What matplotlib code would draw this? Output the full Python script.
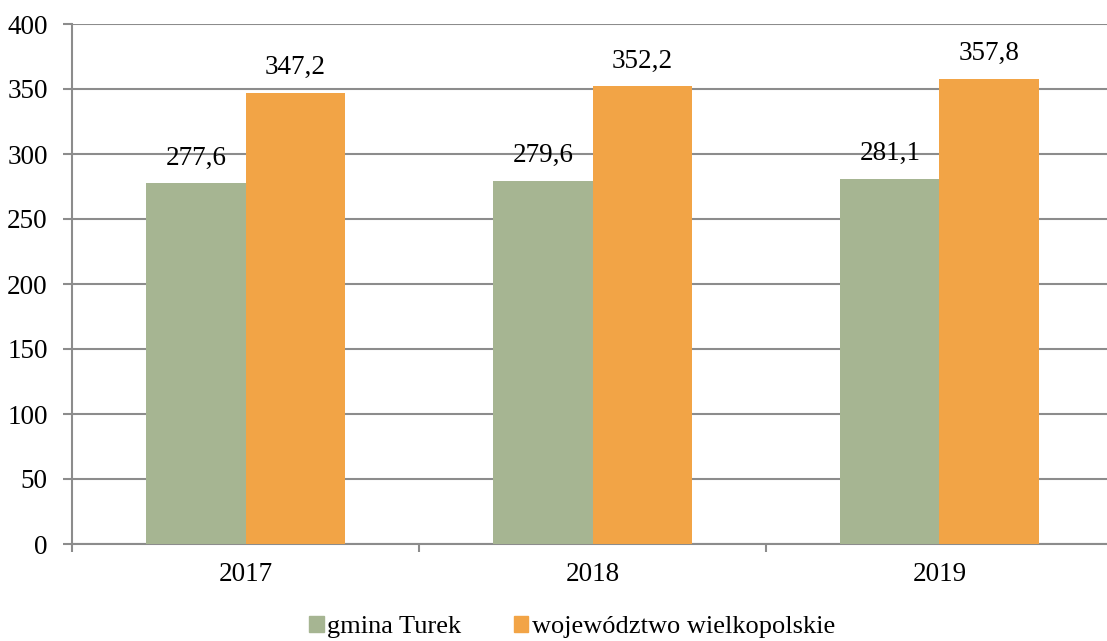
import numpy as np
import matplotlib
matplotlib.use("Agg")
from matplotlib import pyplot as plt
from matplotlib.patches import Patch

years = ["2017", "2018", "2019"]
gmina = [277.6, 279.6, 281.1]
woj = [347.2, 352.2, 357.8]
series_names = ["gmina Turek", "województwo wielkopolskie"]
colors = ["#A6B592", "#F2A446"]

plt.rcParams['font.family'] = ['Liberation Serif', 'DejaVu Serif']

fig = plt.figure(figsize=(11.07, 6.41), dpi=100)
ax = fig.add_axes([72/1107, 1-544/641, (1113-72)/1107, (544-24)/641])

x = np.arange(len(years))
w = 0.286
b1 = ax.bar(x - w/2, gmina, w, color=colors[0], zorder=3)
b2 = ax.bar(x + w/2, woj, w, color=colors[1], zorder=3)

for bars, vals in [(b1, gmina), (b2, woj)]:
    for r, v in zip(bars, vals):
        ax.annotate(f"{v:.1f}".replace(".", ","), (r.get_x() + r.get_width()/2, v),
                    xytext=(0, 9), textcoords="offset points",
                    ha="center", va="bottom", fontsize=19.5)

ax.set_xlim(-0.5, 2.5)
ax.set_ylim(0, 400)
ax.set_yticks(np.arange(0, 401, 50))
ax.yaxis.grid(True, color="#8c8c8c", lw=1.5, zorder=0)
ax.set_xticks(x)
ax.set_xticklabels(years)
ax.set_xticks(np.arange(-0.5, 2.6, 1), minor=True)
ax.tick_params(axis="x", which="major", length=0, labelsize=19.5, pad=13)
ax.tick_params(axis="x", which="minor", length=6, width=1.5, color="#8c8c8c", direction="out")
ax.tick_params(axis="y", length=6.5, width=1.5, color="#8c8c8c", labelsize=19.5, pad=11)
for s in ["top", "right"]:
    ax.spines[s].set_visible(False)
for s in ["left", "bottom"]:
    ax.spines[s].set_color("#8c8c8c")
    ax.spines[s].set_linewidth(1.5)

handles = [Patch(color=c) for c in colors]
fig.legend(handles, series_names, loc="center", bbox_to_anchor=(572/1107, 1-627/641),
           ncol=2, frameon=False, fontsize=19, handlelength=0.55, handleheight=0.55,
           handletextpad=0.12, columnspacing=2.0)

fig.savefig("out.png", dpi=100)
